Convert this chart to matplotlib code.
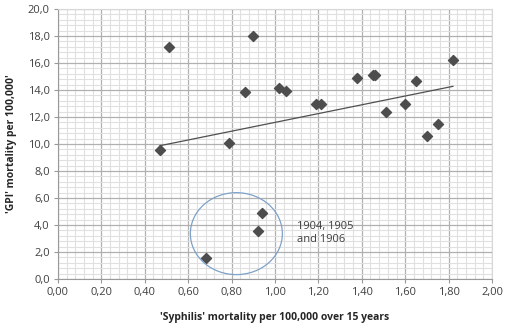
import numpy as np
import matplotlib.pyplot as plt
from matplotlib.patches import Ellipse
from matplotlib.ticker import MultipleLocator, FuncFormatter

# 'Syphilis' and 'GPI' mortality per 100,000 (one point per year)
syphilis = [0.47, 0.51, 0.79, 0.86, 0.90, 1.02, 1.05, 1.19, 1.21, 1.38, 1.45,
            1.46, 1.51, 1.60, 1.65, 1.70, 1.75, 1.82, 0.68, 0.92, 0.94]
gpi = [9.55, 17.15, 10.1, 13.85, 18.0, 14.15, 13.95, 13.0, 12.95, 14.9, 15.1,
       15.1, 12.4, 13.0, 14.65, 10.6, 11.5, 16.25, 1.55, 3.55, 4.9]

circle_centre = (0.822, 3.36)
circle_size = (0.424, 6.07)
note = '1904, 1905\nand 1906'

plt.rcParams['font.family'] = ['Open Sans', 'DejaVu Sans']

fig = plt.figure(figsize=(5.1, 3.29), dpi=100)
ax = fig.add_axes([0.1137, 0.152, 0.851, 0.8206])

ax.set_xlim(0, 2.0)
ax.set_ylim(0, 20.0)
ax.xaxis.set_major_locator(MultipleLocator(0.2))
ax.xaxis.set_minor_locator(MultipleLocator(0.04))
ax.yaxis.set_major_locator(MultipleLocator(2.0))
ax.yaxis.set_minor_locator(MultipleLocator(0.4))
ax.xaxis.set_major_formatter(FuncFormatter(lambda v, p: f'{v:.2f}'.replace('.', ',')))
ax.yaxis.set_major_formatter(FuncFormatter(lambda v, p: f'{v:.1f}'.replace('.', ',')))

ax.grid(which='minor', color='#e0e0e0', linewidth=0.8)
ax.grid(which='major', color='#b0b0b0', linewidth=0.9)
ax.set_axisbelow(True)
ax.tick_params(which='minor', length=0)
ax.tick_params(which='major', direction='out', length=3, color='#999999',
               labelsize=8, labelcolor='#404040', pad=3)
for side in ['left', 'bottom']:
    ax.spines[side].set_color('#999999')
for side in ['right', 'top']:
    ax.spines[side].set_color('#d8d8d8')

ax.scatter(syphilis, gpi, marker='D', s=26, color='#4d4d4d', zorder=3)

# linear trend over all years
k, b = np.polyfit(syphilis, gpi, 1)
xs = np.array([min(syphilis), max(syphilis)])
ax.plot(xs, k * xs + b, color='#505050', linewidth=0.9, zorder=2)

ax.add_patch(Ellipse(circle_centre, circle_size[0], circle_size[1], fill=False,
                     edgecolor='#7ea2c8', linewidth=0.9, zorder=4))
ax.text(1.10, 3.42, note, fontsize=8, color='#404040', va='center',
        ha='left', linespacing=1.25)

ax.set_xlabel("'Syphilis' mortality per 100,000 over 15 years", fontsize=7.5,
              fontweight='bold', color='#262626', labelpad=10)
ax.set_ylabel("'GPI' mortality per 100,000'", fontsize=7.5,
              fontweight='bold', color='#262626', labelpad=8)

plt.savefig('out.png', dpi=100)
